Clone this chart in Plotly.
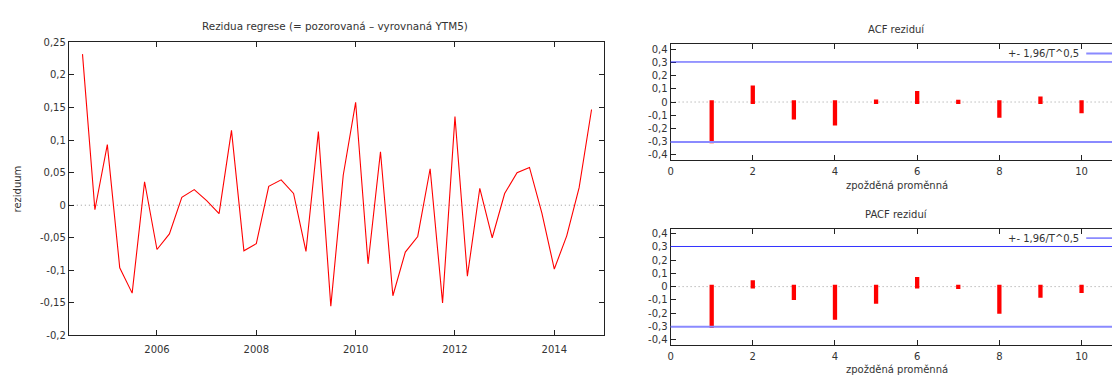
import numpy as np
import pandas as pd
import plotly.graph_objects as go

# Quarterly observations 2004:3 - 2014:4
obdobi = pd.period_range("2004Q3", periods=42, freq="Q")
rezidua = [
    0.232, -0.007, 0.093, -0.096, -0.135, 0.036, -0.068, -0.044, 0.012, 0.024,
    0.007, -0.013, 0.115, -0.070, -0.059, 0.029, 0.039, 0.018, -0.071, 0.113,
    -0.155, 0.046, 0.158, -0.090, 0.082, -0.139, -0.072, -0.048, 0.056, -0.150,
    0.136, -0.109, 0.026, -0.050, 0.018, 0.050, 0.058, -0.012, -0.098, -0.047,
    0.027, 0.147,
]

zpozdeni = list(range(1, 11))
acf = [-0.297, 0.110, -0.118, -0.162, 0.005, 0.069, 0.003, -0.105, 0.027, -0.071]
pacf = [-0.297, 0.034, -0.086, -0.235, -0.115, 0.059, -0.004, -0.191, -0.069, -0.034]

roky = [2006, 2008, 2010, 2012, 2014]
roky_text = ["2006", "2008", "2010", "2012", "2014"]
rez_ticks = [-0.2, -0.15, -0.1, -0.05, 0, 0.05, 0.1, 0.15, 0.2, 0.25]
rez_text = ["-0,2", "-0,15", "-0,1", "-0,05", "0", "0,05", "0,1", "0,15", "0,2", "0,25"]
kor_ticks = [-0.4, -0.3, -0.2, -0.1, 0, 0.1, 0.2, 0.3, 0.4]
kor_text = ["-0,4", "-0,3", "-0,2", "-0,1", "0", "0,1", "0,2", "0,3", "0,4"]
lag_ticks = [0, 2, 4, 6, 8, 10]
lag_text = ["0", "2", "4", "6", "8", "10"]

# 95% band for the correlogram
mez = 1.96 / np.sqrt(len(rezidua))

W, H = 1180, 379
FONT = "DejaVu Sans"
TXT = "#333333"
AX = "#222222"


def px(x):
    return x / W


def py(y):
    return 1 - y / H


cas = [p.year + (p.quarter - 1) / 4 for p in obdobi]

fig = go.Figure()

fig.add_trace(go.Scatter(
    x=cas, y=rezidua, mode="lines",
    line=dict(color="#ff0000", width=1.1),
    xaxis="x", yaxis="y", showlegend=False,
))

bar_style = dict(color="#ff0000", line=dict(color="#ff0000", width=3.8))
fig.add_trace(go.Bar(x=zpozdeni, y=acf, width=0.012, marker=bar_style,
                     xaxis="x2", yaxis="y2", showlegend=False))
fig.add_trace(go.Bar(x=zpozdeni, y=pacf, width=0.012, marker=bar_style,
                     xaxis="x3", yaxis="y3", showlegend=False))

tickfont = dict(family=FONT, size=10, color=TXT)
base_axis = dict(
    showline=True, linecolor=AX, linewidth=1, mirror="ticks",
    ticks="inside", ticklen=5, tickcolor=AX, tickwidth=1,
    showgrid=False, zeroline=False, tickfont=tickfont,
)

fig.update_layout(
    width=W, height=H,
    margin=dict(l=0, r=0, t=0, b=0),
    paper_bgcolor="white", plot_bgcolor="white",
    font=dict(family=FONT, size=10, color=TXT),
    xaxis=dict(base_axis, domain=[px(66), px(602.5)], range=[2004.225, 2015.0],
               tickvals=roky, ticktext=roky_text, anchor="y", ticklabelstandoff=5),
    yaxis=dict(base_axis, domain=[py(339.3), py(37.5)], range=[-0.2, 0.25],
               tickvals=rez_ticks, ticktext=rez_text, anchor="x"),
    xaxis2=dict(base_axis, domain=[px(669.3), px(1122.5)], range=[0, 11],
                tickvals=lag_ticks, ticktext=lag_text, anchor="y2", ticklabelstandoff=2),
    yaxis2=dict(base_axis, domain=[py(158.5), py(39.3)], range=[-0.437, 0.437],
                tickvals=kor_ticks, ticktext=kor_text, anchor="x2"),
    xaxis3=dict(base_axis, domain=[px(669.3), px(1122.5)], range=[0, 11],
                tickvals=lag_ticks, ticktext=lag_text, anchor="y3", ticklabelstandoff=2),
    yaxis3=dict(base_axis, domain=[py(348.7), py(229.3)], range=[-0.437, 0.437],
                tickvals=kor_ticks, ticktext=kor_text, anchor="x3"),
)

shapes = []
# dotted zero lines
for xr, yr in [("x", "y"), ("x2", "y2"), ("x3", "y3")]:
    shapes.append(dict(type="line", xref=f"{xr} domain", yref=yr, x0=0, x1=1,
                       y0=0, y1=0, line=dict(color="#9a9a9a", width=1, dash="1px,3px"),
                       layer="below"))
# +- 1.96/sqrt(T) bands
for xr, yr in [("x2", "y2"), ("x3", "y3")]:
    shapes.append(dict(type="line", xref=f"{xr} domain", yref=yr, x0=0, x1=1,
                       y0=mez, y1=mez, line=dict(color="#3333ff", width=1)))
    shapes.append(dict(type="line", xref=f"{xr} domain", yref=yr, x0=0, x1=1,
                       y0=-mez, y1=-mez, line=dict(color="#8a8aff", width=2)))
# legend keys
shapes.append(dict(type="line", xref="paper", yref="paper", x0=px(1086), x1=px(1140),
                   y0=py(49), y1=py(49), line=dict(color="#8a8aff", width=2)))
shapes.append(dict(type="line", xref="paper", yref="paper", x0=px(1086), x1=px(1140),
                   y0=py(239), y1=py(239), line=dict(color="#3333ff", width=1)))
fig.update_layout(shapes=shapes)


def txt(text, x, y, xanchor="center", angle=0, size=10):
    return dict(text=text, x=px(x), y=py(y), xref="paper", yref="paper",
                xanchor=xanchor, yanchor="middle", showarrow=False, textangle=angle,
                font=dict(family=FONT, size=size, color=TXT))


fig.update_layout(annotations=[
    txt("Rezidua regrese (= pozorovaná – vyrovnaná YTM5)", 333, 20.5, size=10.4),
    txt("reziduum", 15, 188, angle=-90),
    txt("ACF reziduí", 896, 24.5),
    txt("zpožděná proměnná", 896, 184.5),
    txt("+- 1,96/T^0,5", 1081, 49, xanchor="right"),
    txt("PACF reziduí", 896, 214.5),
    txt("zpožděná proměnná", 896, 374.5),
    txt("+- 1,96/T^0,5", 1081, 239, xanchor="right"),
])

fig.write_html(
    "out.html",
    config={"displayModeBar": False},
    post_script="document.documentElement.style.overflow='hidden';"
                "document.body.style.overflow='hidden';",
)
